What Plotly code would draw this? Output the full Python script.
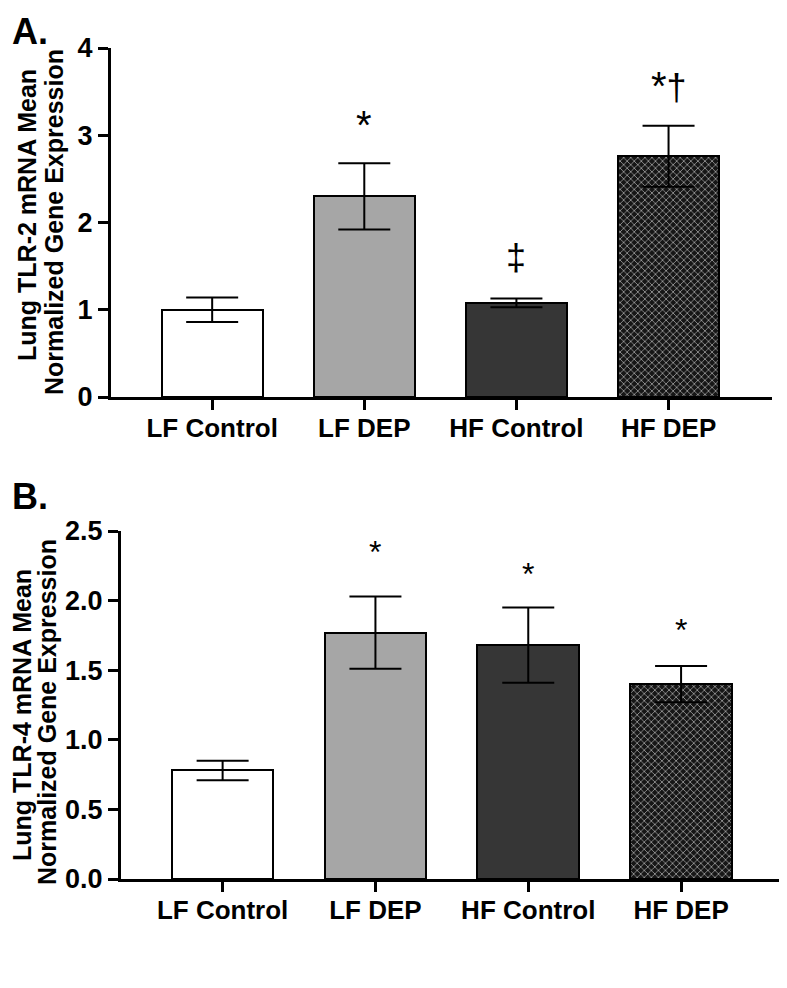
import plotly.graph_objects as go

categories = ["LF Control", "LF DEP", "HF Control", "HF DEP"]

# Panel A: Lung TLR-2
tlr2_mean = [1.00, 2.30, 1.08, 2.76]
tlr2_sem = [0.14, 0.38, 0.05, 0.35]
tlr2_marks = ["", "*", "‡", "*†"]
tlr2_mark_y = [None, 3.12, 1.60, 3.57]

# Panel B: Lung TLR-4
tlr4_mean = [0.78, 1.77, 1.68, 1.40]
tlr4_sem = [0.07, 0.26, 0.27, 0.13]
tlr4_marks = ["", "*", "*", "*"]
tlr4_mark_y = [None, 2.35, 2.19, 1.79]

fills = ["white", "#a6a6a6", "#363636", "#1e1e1e"]

FONT = "Liberation Sans, Arial, sans-serif"
# page has an 8px body margin, so the figure is placed at (8, 8)
OFF = 8
W, H = 787 - OFF, 988 - OFF


def px_x(p):
    return (p - OFF) / W


def px_y(p):
    return 1 - (p - OFF) / H


fig = go.Figure()


def add_panel(means, sems, xa, ya):
    for i, c in enumerate(categories):
        pattern = None
        if c == "HF DEP":
            pattern = dict(shape="x", bgcolor="#161616", fgcolor="white",
                           size=5, solidity=0.18, fillmode="replace")
        fig.add_trace(go.Bar(
            x=[i], y=[means[i]], width=0.665,
            marker=dict(color=fills[i], line=dict(color="black", width=2),
                        pattern=pattern),
            error_y=dict(type="data", array=[sems[i]], visible=True,
                         color="black", thickness=2, width=26),
            xaxis=xa, yaxis=ya, showlegend=False,
        ))


add_panel(tlr2_mean, tlr2_sem, "x", "y")
add_panel(tlr4_mean, tlr4_sem, "x2", "y2")


def mark_text(m, star_size, other_size):
    out = ""
    for ch in m:
        size = star_size if ch == "*" else other_size
        out += "<span style='font-size:%dpx'>%s</span>" % (size, ch)
    return out


annotations = []
for i, (m, yy) in enumerate(zip(tlr2_marks, tlr2_mark_y)):
    if m:
        annotations.append(dict(x=i, y=yy, xref="x", yref="y",
                                text=mark_text(m, 40, 36),
                                showarrow=False, font=dict(size=30, color="black", family=FONT)))
for i, (m, yy) in enumerate(zip(tlr4_marks, tlr4_mark_y)):
    if m:
        annotations.append(dict(x=i, y=yy, xref="x2", yref="y2",
                                text=mark_text(m, 32, 30),
                                showarrow=False, font=dict(size=30, color="black", family=FONT)))

# panel letters
annotations.append(dict(x=px_x(10), y=px_y(9), xref="paper", yref="paper", text="<b>A.</b>",
                        xanchor="left", yanchor="top", showarrow=False,
                        font=dict(size=36, color="black", family=FONT)))
annotations.append(dict(x=px_x(10), y=px_y(474), xref="paper", yref="paper", text="<b>B.</b>",
                        xanchor="left", yanchor="top", showarrow=False,
                        font=dict(size=36, color="black", family=FONT)))

# y-axis titles (two tightly spaced lines each)
ytitles = [
    ("Lung TLR-2 mRNA Mean", 27, 215),
    ("Normalized Gene Expression", 54, 222),
    ("Lung TLR-4 mRNA Mean", 22, 715),
    ("Normalized Gene Expression", 47, 712),
]
for txt, px, py in ytitles:
    annotations.append(dict(x=px_x(px), y=px_y(py), xref="paper", yref="paper",
                            text="<b>%s</b>" % txt, textangle=-90,
                            xanchor="center", yanchor="middle", showarrow=False,
                            font=dict(size=25, color="black", family=FONT)))

xcommon = dict(tickmode="array", tickvals=list(range(len(categories))),
               ticktext=["<b>%s</b>" % c for c in categories],
               showline=True, linecolor="black", linewidth=3,
               ticks="outside", ticklen=10, tickwidth=3, tickcolor="black",
               showgrid=False, zeroline=False, automargin=False,
               ticklabelstandoff=-4,
               tickfont=dict(size=26, color="black", family=FONT))
ycommon = dict(showline=True, linecolor="black", linewidth=3,
               ticks="outside", ticklen=10, tickwidth=3, tickcolor="black",
               showgrid=False, zeroline=False, automargin=False,
               tickprefix="<b>", ticksuffix="</b>",
               tickfont=dict(size=27, color="black", family=FONT))

fig.update_layout(
    width=W, height=H,
    margin=dict(l=0, r=0, t=0, b=0),
    paper_bgcolor="white", plot_bgcolor="white",
    bargap=0,
    xaxis=dict(xcommon, domain=[px_x(111), px_x(772)], range=[-0.665, 3.68], anchor="y"),
    yaxis=dict(ycommon, domain=[px_y(397), px_y(48)], range=[0, 4], dtick=1, anchor="x",
               tickformat="d"),
    xaxis2=dict(xcommon, domain=[px_x(121), min(1.0, px_x(785))], range=[-0.665, 3.68],
                anchor="y2"),
    yaxis2=dict(ycommon, domain=[px_y(879), px_y(531)], range=[0, 2.5], dtick=0.5,
                anchor="x2", tickformat=".1f"),
    annotations=annotations,
)

fig.write_html("out.html")
